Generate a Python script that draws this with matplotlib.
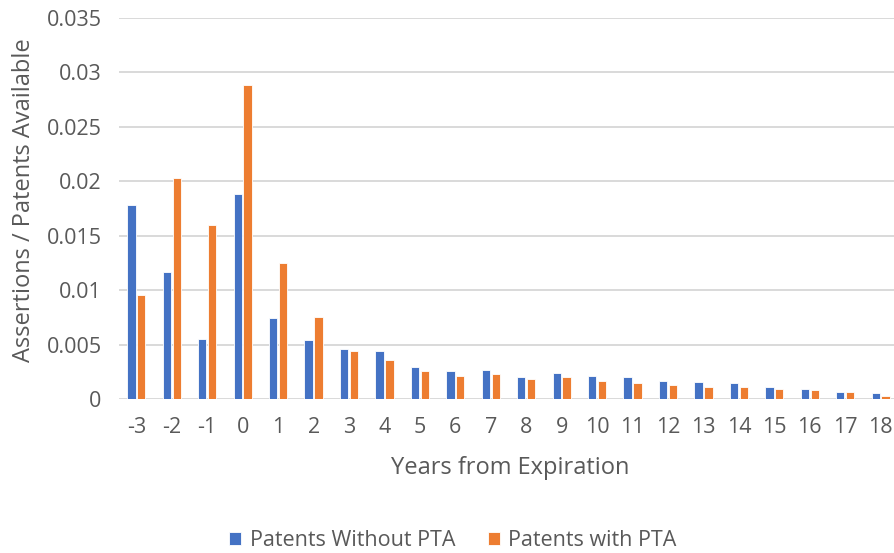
import matplotlib
matplotlib.use("Agg")
import matplotlib.pyplot as plt
import numpy as np

categories = ["-3", "-2", "-1", "0", "1", "2", "3", "4", "5", "6", "7", "8", "9",
              "10", "11", "12", "13", "14", "15", "16", "17", "18"]
without_pta = [0.01782, 0.01164, 0.00553, 0.01883, 0.00749, 0.00544, 0.00458, 0.00443,
               0.00298, 0.00258, 0.00270, 0.00209, 0.00242, 0.00212, 0.00200, 0.00166,
               0.00156, 0.00147, 0.00116, 0.00092, 0.00067, 0.00055]
with_pta = [0.00957, 0.02032, 0.01595, 0.02879, 0.01247, 0.00755, 0.00443, 0.00358,
            0.00258, 0.00215, 0.00230, 0.00187, 0.00200, 0.00169, 0.00150, 0.00129,
            0.00116, 0.00110, 0.00092, 0.00086, 0.00064, 0.00034]
series_names = ["Patents Without PTA", "Patents with PTA"]
yticks = [0, 0.005, 0.01, 0.015, 0.02, 0.025, 0.03, 0.035]
ytick_labels = ["0", "0.005", "0.01", "0.015", "0.02", "0.025", "0.03", "0.035"]

plt.rcParams['font.family'] = ['Open Sans', 'DejaVu Sans']
text_color = "#595959"
blue = "#4472C4"
orange = "#ED7D31"

W, H = 895, 553
fig = plt.figure(figsize=(W / 100, H / 100), dpi=100)
ax_l, ax_r, ax_b, ax_t = 119, 898, 399.3, 17.7
ax = fig.add_axes([ax_l / W, 1 - ax_b / H, (ax_r - ax_l) / W, (ax_b - ax_t) / H])

x = np.arange(len(categories))
bw = 0.235
off = 0.14
ax.bar(x - off, without_pta, width=bw, color=blue, edgecolor="white", linewidth=0.6,
       label=series_names[0], zorder=3)
ax.bar(x + off, with_pta, width=bw, color=orange, edgecolor="white", linewidth=0.6,
       label=series_names[1], zorder=3)

ax.set_xlim(-0.49, len(categories) - 0.51)
ax.set_ylim(0, 0.035)
ax.set_yticks(yticks)
ax.set_yticklabels(ytick_labels)
ax.set_xticks(x)
ax.set_xticklabels(categories)
ax.tick_params(axis="both", length=0, labelsize=15.5, colors=text_color)
ax.tick_params(axis="y", pad=12.5)
ax.tick_params(axis="x", pad=13)
for s in ax.spines.values():
    s.set_visible(False)
ax.grid(axis="y", color="#D9D9D9", linewidth=1.4, zorder=0)
ax.set_axisbelow(True)

ax.set_xlabel("Years from Expiration", fontsize=17, color=text_color, va="center")
ax.set_ylabel("Assertions / Patents Available", fontsize=17, color=text_color, va="center")
ax.xaxis.set_label_coords((510 - ax_l) / (ax_r - ax_l), (ax_b - 468) / (ax_b - ax_t))
ax.yaxis.set_label_coords((24 - ax_l) / (ax_r - ax_l), (ax_b - 200) / (ax_b - ax_t))

leg = fig.legend(loc="center", bbox_to_anchor=(453 / W, 1 - 541 / H), ncol=2, frameon=False,
                 fontsize=15.5, handlelength=0.55, handleheight=0.55, columnspacing=1.5,
                 handletextpad=0.4, labelcolor=text_color)

fig.savefig("out.png", dpi=100)
